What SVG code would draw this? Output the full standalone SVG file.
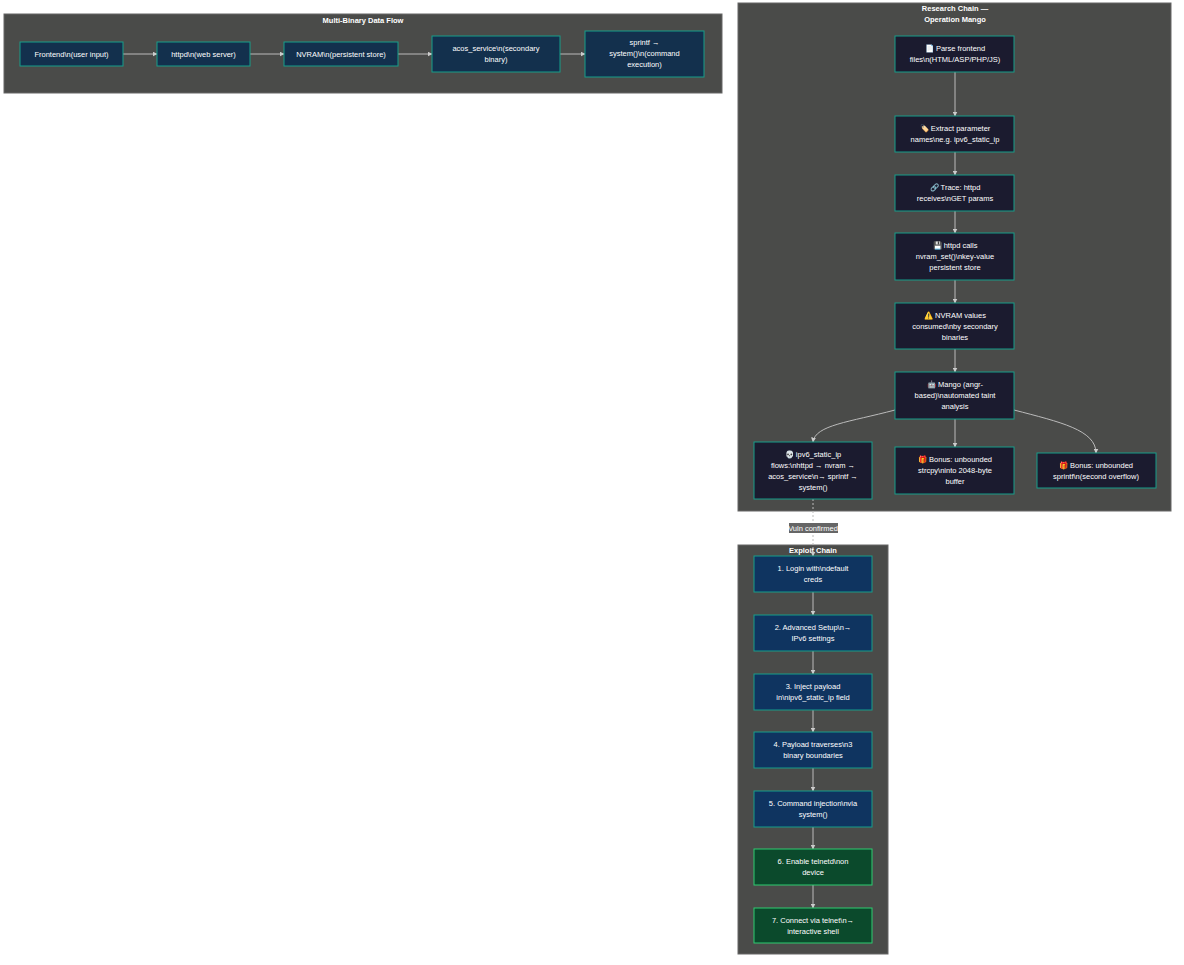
<svg xmlns="http://www.w3.org/2000/svg" width="1184" height="965" viewBox="0 0 1184 965">
<defs>
<marker id="ah" viewBox="0 0 10 10" refX="9" refY="5" markerWidth="5" markerHeight="5" orient="auto"><path d="M0,0L10,5L0,10z" fill="#cccccc"/></marker>
<style>
.cl{fill:#4a4b49;stroke:#666;stroke-width:1}
.ct{font-family:"Liberation Sans",Arial,sans-serif;font-size:7.5px;fill:#fff;text-anchor:middle;font-weight:bold}
.t{font-family:"Liberation Sans",Arial,sans-serif;font-size:7.5px;fill:#fff;text-anchor:middle}
.nf{fill:#13304d;stroke:#169e8a;stroke-width:1}
.nr{fill:#1b1b2f;stroke:#169e8a;stroke-width:1}
.nb{fill:#0f3460;stroke:#169e8a;stroke-width:1}
.ng{fill:#0b4a2c;stroke:#2ecc71;stroke-width:1}
.e{stroke:#bbbbbb;stroke-width:1;fill:none;marker-end:url(#ah)}
</style>
</defs>
<rect width="1184" height="965" fill="#fff"/>
<rect class="cl" x="4" y="14" width="718" height="79"/>
<text class="ct" x="363" y="23">Multi-Binary Data Flow</text>
<rect class="cl" x="738" y="3" width="433" height="508"/>
<text class="ct" x="955" y="11">Research Chain —</text>
<text class="ct" x="955" y="22">Operation Mango</text>
<rect class="cl" x="738" y="545" width="150" height="409"/>
<text class="ct" x="813" y="553">Exploit Chain</text>

<g id="edges">
<path class="e" d="M123,54H157"/>
<path class="e" d="M250,54H284"/>
<path class="e" d="M398,54H432"/>
<path class="e" d="M560,54H585"/>
<path class="e" d="M955,72V116"/>
<path class="e" d="M955,152V175"/>
<path class="e" d="M955,211V233"/>
<path class="e" d="M955,280V303"/>
<path class="e" d="M955,349V372"/>
<path class="e" d="M955,419V447"/>
<path class="e" d="M895,410C850,422 815,425 813,442"/>
<path class="e" d="M1014,410C1060,422 1096,430 1096,453"/>
<path d="M813,499V556" stroke="#bbb" stroke-width="1" stroke-dasharray="2,2" fill="none" marker-end="url(#ah)"/>
<rect x="789" y="523" width="49" height="10" fill="#666"/>
<text class="t" x="813" y="531" style="fill:#fff">Vuln confirmed</text>
<path class="e" d="M813,592V615"/>
<path class="e" d="M813,651V674"/>
<path class="e" d="M813,710V732"/>
<path class="e" d="M813,768V791"/>
<path class="e" d="M813,827V849"/>
<path class="e" d="M813,885V908"/>
</g>

<g id="n_frontend"><rect class="nf" x="20" y="42" width="103" height="24"/><text class="t" x="71.5" y="57">Frontend\n(user input)</text></g>
<g id="n_httpd"><rect class="nf" x="157" y="42" width="93" height="24"/><text class="t" x="203.5" y="57">httpd\n(web server)</text></g>
<g id="n_nvram"><rect class="nf" x="284" y="42" width="114" height="24"/><text class="t" x="341" y="57">NVRAM\n(persistent store)</text></g>
<g id="n_acos"><rect class="nf" x="432" y="36" width="128" height="36"/><text class="t" x="496" y="51">acos_service\n(secondary</text><text class="t" x="496" y="62">binary)</text></g>
<g id="n_sprintf"><rect class="nf" x="585" y="31" width="119" height="46"/><text class="t" x="644.5" y="45">sprintf →</text><text class="t" x="644.5" y="56">system()\n(command</text><text class="t" x="644.5" y="67">execution)</text></g>

<g id="r_parse"><rect class="nr" x="895" y="36" width="119" height="36"/><text class="t" x="955" y="51">📄 Parse frontend</text><text class="t" x="955" y="62">files\n(HTML/ASP/PHP/JS)</text></g>
<g id="r_extract"><rect class="nr" x="895" y="116" width="119" height="36"/><text class="t" x="955" y="131">🏷️ Extract parameter</text><text class="t" x="955" y="142">names\ne.g. ipv6_static_ip</text></g>
<g id="r_trace"><rect class="nr" x="895" y="175" width="119" height="36"/><text class="t" x="955" y="190">🔗 Trace: httpd</text><text class="t" x="955" y="201">receives\nGET params</text></g>
<g id="r_httpd"><rect class="nr" x="895" y="233" width="119" height="47"/><text class="t" x="955" y="248">💾 httpd calls</text><text class="t" x="955" y="259">nvram_set()\nkey-value</text><text class="t" x="955" y="270">persistent store</text></g>
<g id="r_nvram"><rect class="nr" x="895" y="303" width="119" height="46"/><text class="t" x="955" y="318">⚠️ NVRAM values</text><text class="t" x="955" y="329">consumed\nby secondary</text><text class="t" x="955" y="340">binaries</text></g>
<g id="r_mango"><rect class="nr" x="895" y="372" width="119" height="47"/><text class="t" x="955" y="387">🤖 Mango (angr-</text><text class="t" x="955" y="398">based)\nautomated taint</text><text class="t" x="955" y="409">analysis</text></g>
<g id="r_ipv6"><rect class="nr" x="754" y="442" width="118" height="57"/><text class="t" x="813" y="457">💀 ipv6_static_ip</text><text class="t" x="813" y="468">flows:\nhttpd → nvram →</text><text class="t" x="813" y="479">acos_service\n→ sprintf →</text><text class="t" x="813" y="490">system()</text></g>
<g id="r_strcpy"><rect class="nr" x="895" y="447" width="119" height="47"/><text class="t" x="955" y="462">🎁 Bonus: unbounded</text><text class="t" x="955" y="473">strcpy\ninto 2048-byte</text><text class="t" x="955" y="484">buffer</text></g>
<g id="r_sprintf"><rect class="nr" x="1037" y="453" width="119" height="35"/><text class="t" x="1096" y="468">🎁 Bonus: unbounded</text><text class="t" x="1096" y="479">sprintf\n(second overflow)</text></g>

<g id="x1"><rect class="nb" x="754" y="556" width="118" height="36"/><text class="t" x="813" y="571">1. Login with\ndefault</text><text class="t" x="813" y="582">creds</text></g>
<g id="x2"><rect class="nb" x="754" y="615" width="118" height="36"/><text class="t" x="813" y="630">2. Advanced Setup\n→</text><text class="t" x="813" y="641">IPv6 settings</text></g>
<g id="x3"><rect class="nb" x="754" y="674" width="118" height="36"/><text class="t" x="813" y="689">3. Inject payload</text><text class="t" x="813" y="700">in\nipv6_static_ip field</text></g>
<g id="x4"><rect class="nb" x="754" y="732" width="118" height="36"/><text class="t" x="813" y="747">4. Payload traverses\n3</text><text class="t" x="813" y="758">binary boundaries</text></g>
<g id="x5"><rect class="nb" x="754" y="791" width="118" height="36"/><text class="t" x="813" y="806">5. Command injection\nvia</text><text class="t" x="813" y="817">system()</text></g>
<g id="x6"><rect class="ng" x="754" y="849" width="118" height="36"/><text class="t" x="813" y="864">6. Enable telnetd\non</text><text class="t" x="813" y="875">device</text></g>
<g id="x7"><rect class="ng" x="754" y="908" width="118" height="35"/><text class="t" x="813" y="923">7. Connect via telnet\n→</text><text class="t" x="813" y="934">interactive shell</text></g>
</svg>
